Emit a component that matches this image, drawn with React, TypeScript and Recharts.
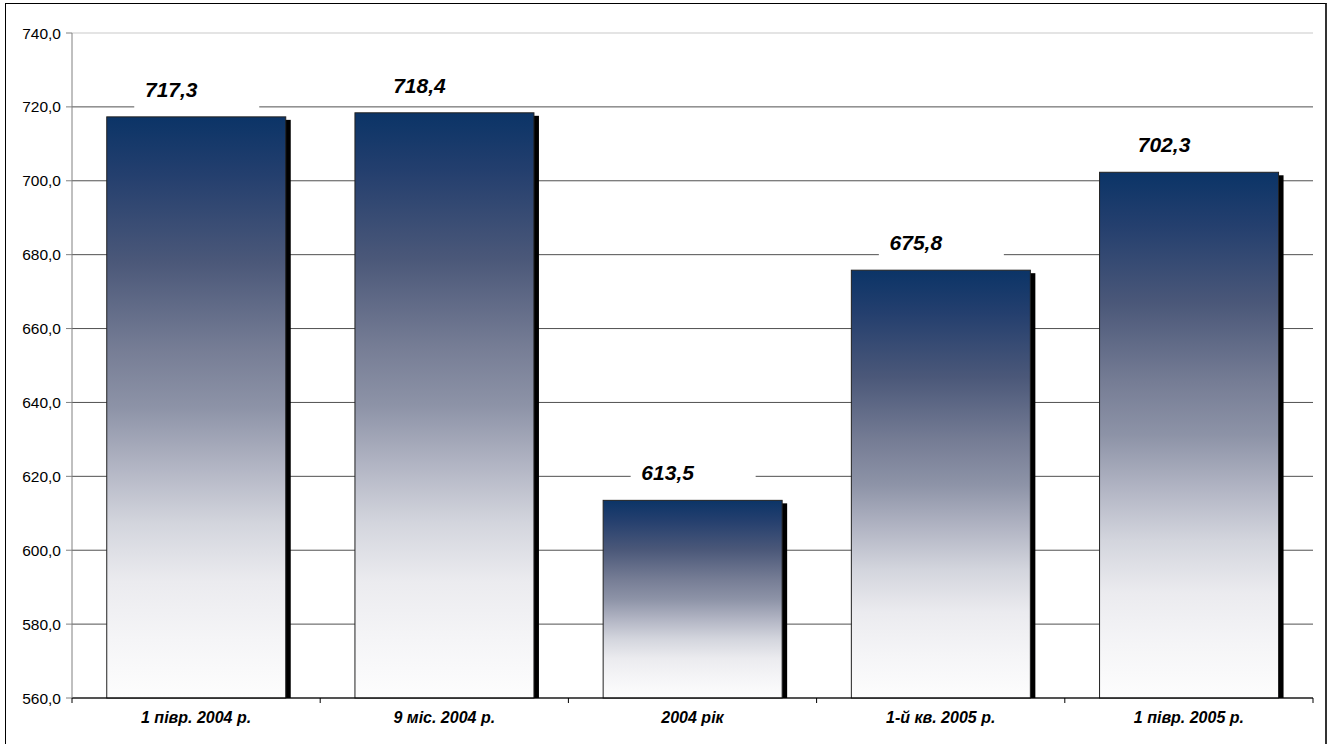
import React from "react";
import {
  BarChart,
  Bar,
  XAxis,
  YAxis,
  CartesianGrid,
  ReferenceLine,
  LabelList,
} from "recharts";

const categories = [
  "1 півр. 2004 р.",
  "9 міс. 2004 р.",
  "2004 рік",
  "1-й кв. 2005 р.",
  "1 півр. 2005 р.",
];
const values = [717.3, 718.4, 613.5, 675.8, 702.3];
const yTicks = [560, 580, 600, 620, 640, 660, 680, 700, 720, 740];

const data = categories.map((name, i) => ({ name, value: values[i] }));

const W = 1332;
const H = 744;
const PLOT_LEFT = 72;
const PLOT_RIGHT = 1313;
const PLOT_TOP = 33;
const PLOT_BOTTOM = 698;
const HALF_BAND = (PLOT_RIGHT - PLOT_LEFT) / categories.length / 2;

const FONT = "Arial, 'Liberation Sans', sans-serif";

const fmt = (v: number) => v.toFixed(1).replace(".", ",");

const BarShape = (props: any) => {
  const { x, y, width, height } = props;
  if (height <= 0) return null;
  return (
    <g>
      <rect x={x + 5} y={y + 3} width={width} height={height - 3} fill="#000" />
      <rect
        x={x}
        y={y}
        width={width}
        height={height}
        fill="url(#barGrad)"
        stroke="#222"
        strokeWidth={1}
      />
    </g>
  );
};

const ValueLabel = (props: any) => {
  const { x, y, width, value } = props;
  const cx = x + width / 2;
  return (
    <g>
      <rect x={cx - 62} y={y - 45} width={125} height={36.5} fill="#fff" />
      <text
        x={cx - 25}
        y={y - 20}
        textAnchor="middle"
        fontFamily={FONT}
        fontSize={21}
        fontWeight="bold"
        fontStyle="italic"
        fill="#000"
      >
        {fmt(value)}
      </text>
    </g>
  );
};

const XTick = (props: any) => {
  const { x, payload, index } = props;
  const left = x - HALF_BAND;
  const right = x + HALF_BAND;
  return (
    <g>
      <line x1={left} y1={PLOT_BOTTOM} x2={left} y2={PLOT_BOTTOM + 5} stroke="#000" />
      {index === categories.length - 1 && (
        <line x1={right} y1={PLOT_BOTTOM} x2={right} y2={PLOT_BOTTOM + 5} stroke="#000" />
      )}
      <text
        x={x}
        y={PLOT_BOTTOM + 25}
        textAnchor="middle"
        fontFamily={FONT}
        fontSize={16}
        fontWeight="bold"
        fontStyle="italic"
        fill="#000"
      >
        {payload.value}
      </text>
    </g>
  );
};

export default function App() {
  return (
    <div
      style={{
        position: "absolute",
        left: 0,
        top: 0,
        width: W,
        height: H,
        background: "#fff",
        overflow: "hidden",
      }}
    >
      <div
        style={{
          position: "absolute",
          left: 5,
          top: 3,
          width: 1322,
          height: 760,
          borderTop: "1px solid #000",
          borderLeft: "1px solid #000",
          borderRight: "2px solid #333",
          boxSizing: "border-box",
        }}
      />
      <div style={{ position: "absolute", left: 0, top: 0 }}>
        <BarChart
          width={W}
          height={H}
          data={data}
          margin={{ top: PLOT_TOP, right: W - PLOT_RIGHT, bottom: 0, left: 0 }}
          barCategoryGap="14%"
        >
          <defs>
            <linearGradient id="barGrad" x1="0" y1="0" x2="0" y2="1">
              <stop offset="0" stopColor="#0b3467" />
              <stop offset="0.1" stopColor="#243f6e" />
              <stop offset="0.25" stopColor="#4b5879" />
              <stop offset="0.4" stopColor="#767d95" />
              <stop offset="0.5" stopColor="#8d93a7" />
              <stop offset="0.6" stopColor="#b1b4c3" />
              <stop offset="0.7" stopColor="#d3d5dd" />
              <stop offset="0.8" stopColor="#ebebef" />
              <stop offset="0.9" stopColor="#f5f5f7" />
              <stop offset="1" stopColor="#fdfdfd" />
            </linearGradient>
          </defs>
          <CartesianGrid vertical={false} stroke="#505050" />
          <ReferenceLine y={740} stroke="#e4e4e4" strokeWidth={2} />
          <XAxis
            dataKey="name"
            height={H - PLOT_BOTTOM}
            axisLine={{ stroke: "#000" }}
            tickLine={false}
            tick={<XTick />}
            interval={0}
          />
          <YAxis
            width={PLOT_LEFT}
            domain={[560, 740]}
            ticks={yTicks}
            interval={0}
            tickFormatter={fmt}
            axisLine={{ stroke: "#808080" }}
            tickLine={{ stroke: "#808080" }}
            tickSize={6}
            tickMargin={5}
            tick={{ fontFamily: FONT, fontSize: 15.5, fill: "#000" }}
          />
          <Bar dataKey="value" shape={<BarShape />} isAnimationActive={false}>
            <LabelList dataKey="value" content={<ValueLabel />} />
          </Bar>
        </BarChart>
      </div>
    </div>
  );
}
